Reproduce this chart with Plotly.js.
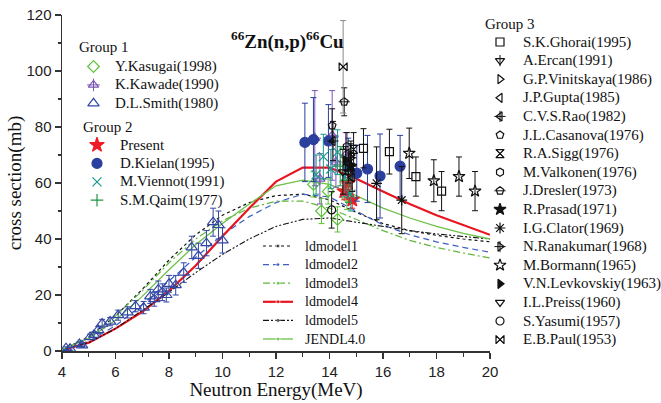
<!DOCTYPE html>
<html><head><meta charset="utf-8">
<script src="https://cdn.plot.ly/plotly-3.0.1.min.js"></script>
<style>html,body{margin:0;padding:0;background:#fff}#chart{width:661px;height:403px}</style>
</head><body><div id="chart"></div>
<script>
// ---------- model curves ----------
const curveE   = [4,5,6,7,8,9,10,11,12,13,14,15,16,17,18,19,20];
const ldmodel1 = [0.5,5,12.5,22,32.5,41.5,48.5,53,55.5,56,54,49.5,45.5,43,41.3,40,39];
const ldmodel2 = [0.3,3.5,9,16.5,25,33.5,41.5,48,53,56,55,50,45,41.5,39,37,35.3];
const ldmodel3 = [0.5,5,12.5,21.5,31.5,40,46.5,51,53.5,53.5,51,47,43,39.5,37,35,33.2];
const ldmodel4 = [0.3,3,8,14,21.5,30.5,41,51,60.5,65.5,65.5,61.5,57,52.5,48.5,45,41.5];
const ldmodel5 = [0.3,3,8,14.5,21,28,34.5,40,44.5,47,47.5,46,44.5,43,41.8,40.8,40];
const jendl40  = [0.5,4.5,11,19.5,29,38,45.5,52.5,59,61,59.5,55.5,51,47.5,44.5,42,40];

// ---------- Group 1 ----------
const kasugaiE = [13.4,13.7,13.95,14.3,14.65];
const kasugaiS = [59.5,50,57,47,55];
const kasugaiD = [4.5,4.5,4.5,4.5,4.5];
const kawadeE = [13.45,13.64,14.1,14.24,14.6];
const kawadeS = [76,61.5,77,67.5,70];
const kawadeD = [17,9,16,9,8];
const smithE = [4.15,4.3,4.65,4.75,5.05,5.2,5.35,5.5,5.8,6.1,6.45,6.75,7.05,7.3,7.45,7.6,7.75,7.9,8.0,8.25,8.55,8.85,9.1,9.4,9.65,9.85,10.0];
const smithS = [1.0,0.8,2.5,2.0,5.0,5.8,7.5,9.8,10.5,12.8,13.8,16,15.5,19.5,18.5,22,21,20,24,23.5,28,37,34,38.5,46,45,39.5];
const smithD = [0.5,0.5,0.7,0.7,1,1,1.2,1.5,1.5,1.8,2,2,2.2,2.5,2.5,3,3,2.5,3,3.5,3.5,4,4.5,4.5,5,5,4.5];

// ---------- Group 2 ----------
const presentE = [14.55,14.7,14.85];
const presentS = [57,60,54];
const presentD = [3,3,3];
const kielanE = [13.08,13.4,13.96,14.7,15.02,15.42,15.89,16.64];
const kielanS = [74.5,75.5,75,66,63.5,65,62.5,66];
const kielanD = [14,15,13,10,10,12,15,11];
const viennotE = [13.5,13.77,14.05,14.3,14.55,14.8];
const viennotS = [63,69.4,65,71,62,56];
const viennotD = [7,8,7,8,7,6];
const qaimE = [14.4,14.7];
const qaimS = [66,61];
const qaimD = [7,8];

// ---------- Group 3 ----------
const ghoraiE = [15.27,16.24,17.23,18.19];
const ghoraiS = [72.4,71.2,62.3,57.1];
const ghoraiD = [7,8,7,7];
const ercanE = [14.7], ercanS = [64], ercanD = [4];
const vinitskayaE = [14.8], vinitskayaS = [70], vinitskayaD = [5];
const guptaE = [14.85], guptaS = [62], guptaD = [5];
const raoE = [14.13], raoS = [75], raoD = [7];
const casanovaE = [14.1], casanovaS = [80.5], casanovaD = [6];
const siggE = [14.9], siggS = [72], siggD = [6];
const valkonenE = [14.65], valkonenS = [73], valkonenD = [5];
const dreslerE = [14.55], dreslerS = [89], dreslerD = [5];
const prasadE = [14.8], prasadS = [66], prasadD = [5];
const clatorE = [15.76,16.7], clatorS = [59.9,53.9], clatorD = [13,12];
const ranakumarE = [14.8], ranakumarS = [69], ranakumarD = [5];
const bormannE = [16.98,17.9,18.84,19.44], bormannS = [70.6,60.8,62.3,57.1], bormannD = [9,7.5,7,7];
const levkovskiyE = [14.6], levkovskiyS = [68], levkovskiyD = [5];
const preissE = [14.5], preissS = [64], preissD = [8];
const yasumiE = [14.08], yasumiS = [50.4], yasumiD = [6.5];
const paulE = [14.51], paulS = [101.5], paulD = [16.5];

// ---------- styles ----------
const BLK = '#111';
const series = [
  // group, name, x, y, err, symbol, color, size, overlay symbol
  [1,'Y.Kasugai(1998)',kasugaiE,kasugaiS,kasugaiD,'diamond-open','#5cc43a',9,null],
  [1,'K.Kawade(1990)',kawadeE,kawadeS,kawadeD,'triangle-up-open','#7a55b5',9,'cross-thin-open'],
  [1,'D.L.Smith(1980)',smithE,smithS,smithD,'triangle-up-open','#3347a5',10,null],
  [2,'Present',presentE,presentS,presentD,'star','#ee1c25',11,null],
  [2,'D.Kielan(1995)',kielanE,kielanS,kielanD,'circle','#2b3f9e',10,null],
  [2,'M.Viennot(1991)',viennotE,viennotS,viennotD,'x-thin-open','#17998a',9,null],
  [2,'S.M.Qaim(1977)',qaimE,qaimS,qaimD,'cross-thin-open','#1e9640',9,null],
  [3,'S.K.Ghorai(1995)',ghoraiE,ghoraiS,ghoraiD,'square-open',BLK,8,null],
  [3,'A.Ercan(1991)',ercanE,ercanS,ercanD,'triangle-down-open',BLK,8,'line-ns-open'],
  [3,'G.P.Vinitskaya(1986)',vinitskayaE,vinitskayaS,vinitskayaD,'triangle-right-open',BLK,8,null],
  [3,'J.P.Gupta(1985)',guptaE,guptaS,guptaD,'triangle-left-open',BLK,8,null],
  [3,'C.V.S.Rao(1982)',raoE,raoS,raoD,'triangle-left-open',BLK,8,'cross-thin-open'],
  [3,'J.L.Casanova(1976)',casanovaE,casanovaS,casanovaD,'pentagon-open',BLK,8,null],
  [3,'R.A.Sigg(1976)',siggE,siggS,siggD,'hourglass-open',BLK,8,'x-thin-open'],
  [3,'M.Valkonen(1976)',valkonenE,valkonenS,valkonenD,'hexagon-open',BLK,8,null],
  [3,'J.Dresler(1973)',dreslerE,dreslerS,dreslerD,'pentagon-open',BLK,8,'line-ew-open'],
  [3,'R.Prasad(1971)',prasadE,prasadS,prasadD,'star',BLK,9,null],
  [3,'I.G.Clator(1969)',clatorE,clatorS,clatorD,'asterisk-open',BLK,9,null],
  [3,'N.Ranakumar(1968)',ranakumarE,ranakumarS,ranakumarD,'triangle-right-open',BLK,8,'cross-thin-open'],
  [3,'M.Bormann(1965)',bormannE,bormannS,bormannD,'star-open',BLK,9,null],
  [3,'V.N.Levkovskiy(1963)',levkovskiyE,levkovskiyS,levkovskiyD,'triangle-right',BLK,8,null],
  [3,'I.L.Preiss(1960)',preissE,preissS,preissD,'triangle-down-open',BLK,8,null],
  [3,'S.Yasumi(1957)',yasumiE,yasumiS,yasumiD,'circle-open',BLK,8,null],
  [3,'E.B.Paul(1953)',paulE,paulS,paulD,'bowtie-open',BLK,8,'x-thin-open']
];
const curves = [
  ['ldmodel1',ldmodel1,'#111','dot',1.2],
  ['ldmodel2',ldmodel2,'#3d5fc4','6px,4px',1.2],
  ['ldmodel3',ldmodel3,'#5db83a','7px,3px,2px,3px',1.2],
  ['ldmodel4',ldmodel4,'#e8151f','solid',2.2],
  ['ldmodel5',ldmodel5,'#111','6px,2px,2px,2px,2px,2px',1.1],
  ['JENDL4.0',jendl40,'#6cc04a','solid',1.3]
];

const traces = [];
curves.forEach(c => traces.push({
  type:'scatter', mode:'lines', x:curveE, y:c[1], name:c[0],
  line:{color:c[2], dash:c[3], width:c[4]}, xaxis:'x', yaxis:'y', hoverinfo:'skip'
}));
series.forEach(s => {
  traces.push({
    type:'scatter', mode:'markers', x:s[2], y:s[3], name:s[1], xaxis:'x', yaxis:'y',
    error_y:{type:'data', array:s[4], visible:true, color:(s[1].startsWith('E.B.Paul')?'#888':s[6]), thickness:1, width:3},
    marker:{symbol:s[5], size:s[7], color:s[6], line:{color:s[6], width:1.2}}
  });
  if (s[8]) traces.push({
    type:'scatter', mode:'markers', x:s[2], y:s[3], xaxis:'x', yaxis:'y', showlegend:false,
    marker:{symbol:s[8], size:s[7], color:s[6], line:{color:s[6], width:1}}
  });
});

// ---------- manual legends (pixel coordinates on overlay axes) ----------
const annotations = [];
const FONT = 'Liberation Serif, Times New Roman, serif';
function addText(x, y, t, size, anchor) {
  annotations.push({xref:'x2', yref:'y2', x:x, y:y, text:t, showarrow:false,
    xanchor:anchor||'left', yanchor:'middle', font:{family:FONT, size:size, color:'#111'}});
}
function addSym(x, y, s) {
  traces.push({type:'scatter', mode:'markers', x:[x], y:[y], xaxis:'x2', yaxis:'y2', showlegend:false, hoverinfo:'skip',
    marker:{symbol:s[5], size:s[7], color:s[6], line:{color:s[6], width:1.2}}});
  if (s[8]) traces.push({type:'scatter', mode:'markers', x:[x], y:[y], xaxis:'x2', yaxis:'y2', showlegend:false, hoverinfo:'skip',
    marker:{symbol:s[8], size:s[7], color:s[6], line:{color:s[6], width:1}}});
}
const legendCfg = {
  1:{title:'Group 1', tx:76.5, ty:47, sx:93.5, lx:113, y0:66.5, dy:18.4},
  2:{title:'Group 2', tx:80.5, ty:127, sx:97, lx:118, y0:145, dy:18.4},
  3:{title:'Group 3', tx:483, ty:24, sx:500, lx:520.5, y0:42, dy:18.6}
};
[1,2,3].forEach(g => {
  const c = legendCfg[g];
  addText(c.tx, c.ty, c.title, 15);
  series.filter(s => s[0] === g).forEach((s, i) => {
    const y = c.y0 + i * c.dy;
    addSym(c.sx, y, s);
    addText(c.lx, y, s[1], 15);
  });
});
curves.forEach((c, i) => {
  const y = 246 + i * 18.6;
  traces.push({type:'scatter', mode:'lines+markers', x:[263,278,293], y:[y,y,y], xaxis:'x2', yaxis:'y2',
    showlegend:false, hoverinfo:'skip', line:{color:c[2], dash:c[3], width:c[4]},
    marker:{size:[0,4,0], color:c[2]}});
  addText(302.5, y, c[0], 14);
});
annotations.push({xref:'x2', yref:'y2', x:287, y:40, text:'<b><sup>66</sup>Zn(n,p)<sup>66</sup>Cu</b>',
  showarrow:false, xanchor:'center', yanchor:'middle', font:{family:FONT, size:19, color:'#111'}});

const axisCommon = {
  showline:true, linecolor:'#333', linewidth:1.5, showgrid:false, zeroline:false,
  ticks:'outside', ticklen:6, tickwidth:1.2, tickcolor:'#333',
  tickfont:{family:'Liberation Sans, Arial, sans-serif', size:15, color:'#222'},
  fixedrange:true
};
const layout = {
  width:661, height:403, margin:{l:0,r:0,t:0,b:0},
  paper_bgcolor:'#ffffff', plot_bgcolor:'rgba(0,0,0,0)', showlegend:false,
  xaxis:Object.assign({}, axisCommon, {domain:[62/661, 490/661], range:[4,20], dtick:2, tick0:4, anchor:'y',
    minor:{dtick:1, ticks:'outside', ticklen:4, tickcolor:'#333'},
    title:{text:'Neutron Energy(MeV)', font:{family:FONT, size:19, color:'#111'}, standoff:0}}),
  yaxis:Object.assign({}, axisCommon, {domain:[52/403, 388/403], range:[0,120], dtick:20, anchor:'x',
    minor:{dtick:10, ticks:'outside', ticklen:3, tickcolor:'#333'},
    title:{text:'cross section(mb)', font:{family:FONT, size:19, color:'#111'}, standoff:0}}),
  xaxis2:{domain:[0,1], range:[0,661], visible:false, anchor:'y2', fixedrange:true},
  yaxis2:{domain:[0,1], range:[403,0], visible:false, anchor:'x2', fixedrange:true},
  annotations:annotations
};
Plotly.newPlot('chart', traces, layout, {staticPlot:true, displayModeBar:false});
</script></body></html>
